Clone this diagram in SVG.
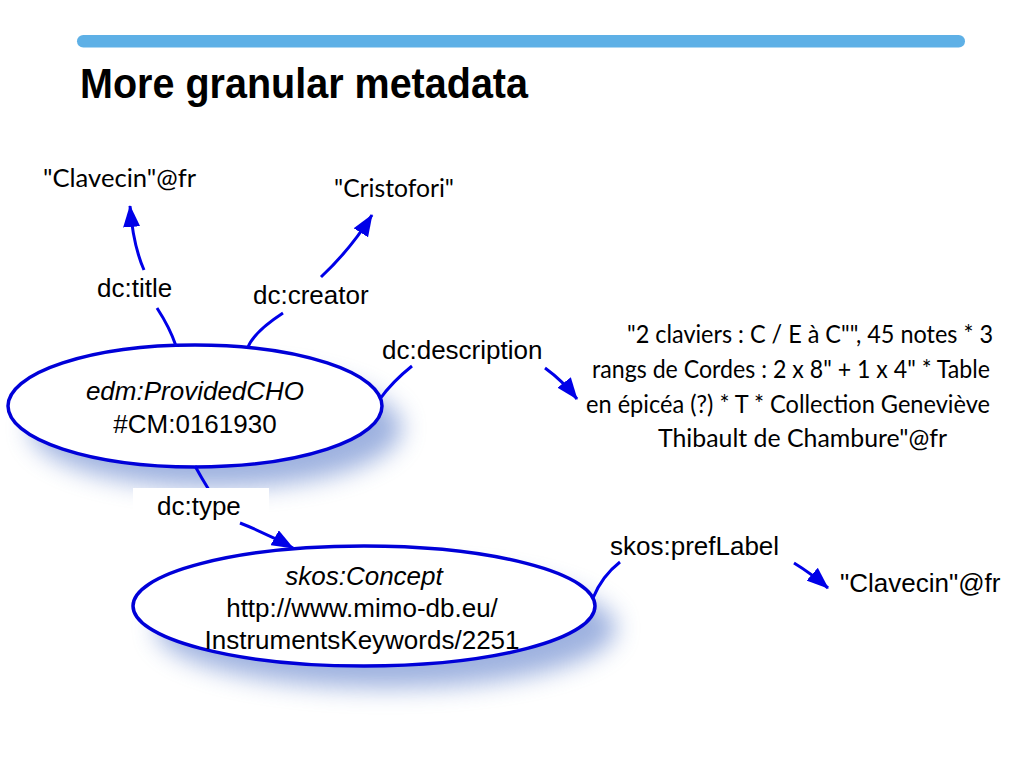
<svg xmlns="http://www.w3.org/2000/svg" width="1024" height="768" viewBox="0 0 1024 768">
<defs>
<filter id="blur" x="-30%" y="-60%" width="160%" height="220%"><feGaussianBlur stdDeviation="12"/></filter>
<marker id="arr" viewBox="0 0 22 17" refX="21" refY="8.5" markerWidth="22" markerHeight="17" markerUnits="userSpaceOnUse" orient="auto"><path d="M0,0 L22,8.5 L0,17 Z" fill="#0000e8"/></marker>
<style>
.edge{fill:none;stroke:#0000e8;stroke-width:3}
.node{fill:#fff;stroke:#0000d8;stroke-width:3.5}
.shadow{fill:#6383cc;opacity:0.62}
.lbl{font-family:"Liberation Sans",Arial,sans-serif;font-size:26px;fill:#000}
.lit{font-family:Lato,"Open Sans",sans-serif;font-size:25px;fill:#000}
</style>
</defs>
<rect width="1024" height="768" fill="#fff"/>
<rect x="77" y="35" width="888" height="12.5" rx="6.25" fill="#5eb0e6"/>
<text x="80" y="98" font-family="Liberation Sans,Arial,sans-serif" font-weight="bold" font-size="43" fill="#000" textLength="448" lengthAdjust="spacingAndGlyphs">More granular metadata</text>

<g id="n-cho">
<ellipse class="shadow" cx="216" cy="428" rx="186" ry="60" filter="url(#blur)"/>
<ellipse class="node" cx="195" cy="406" rx="187" ry="61"/>
<text class="lbl" x="195" y="400" text-anchor="middle" font-style="italic">edm:ProvidedCHO</text>
<text class="lbl" x="195" y="433" text-anchor="middle">#CM:0161930</text>
</g>

<g id="n-concept">
<ellipse class="shadow" cx="386" cy="628" rx="230" ry="60" filter="url(#blur)"/>
<ellipse class="node" cx="364" cy="606" rx="231" ry="60"/>
<text class="lbl" x="364" y="585" text-anchor="middle" font-style="italic">skos:Concept</text>
<text class="lbl" x="362" y="617" text-anchor="middle">http://www.mimo-db.eu/</text>
<text class="lbl" x="362" y="649" text-anchor="middle">InstrumentsKeywords/2251</text>
</g>

<g id="n-title"><text class="lit" x="43" y="187" textLength="153" lengthAdjust="spacingAndGlyphs">"Clavecin"@fr</text></g>
<g id="n-creator"><text class="lit" x="334" y="197" textLength="120" lengthAdjust="spacingAndGlyphs">"Cristofori"</text></g>
<g id="n-desc">
<text class="lit" x="627" y="343" textLength="366" lengthAdjust="spacingAndGlyphs">"2 claviers : C / E à C"", 45 notes * 3</text>
<text class="lit" x="592" y="378" textLength="398" lengthAdjust="spacingAndGlyphs">rangs de Cordes : 2 x 8" + 1 x 4" * Table</text>
<text class="lit" x="586" y="413" textLength="404" lengthAdjust="spacingAndGlyphs">en épicéa (?) * T * Collection Geneviève</text>
<text class="lit" x="658" y="447" textLength="289" lengthAdjust="spacingAndGlyphs">Thibault de Chambure"@fr</text>
</g>
<g id="n-pref"><text class="lbl" x="840" y="592">"Clavecin"@fr</text></g>

<g id="connectors">
<path class="edge" d="M176,346 Q170,328 157,308"/>
<path class="edge" d="M144,270 Q133,245 130,206" marker-end="url(#arr)"/>
<text class="lbl" x="97" y="297">dc:title</text>

<path class="edge" d="M248,347 Q254,332 283,313"/>
<path class="edge" d="M321,277 Q350,250 372,215" marker-end="url(#arr)"/>
<text class="lbl" x="253" y="304">dc:creator</text>

<path class="edge" d="M380,399 Q392,382 412,366"/>
<path class="edge" d="M545,368 Q563,381 577,399" marker-end="url(#arr)"/>
<text class="lbl" x="382" y="359">dc:description</text>

<path class="edge" d="M195,466 Q201,477 209,490"/>
<rect x="133" y="488" width="136" height="34" fill="#fff"/>
<text class="lbl" x="157" y="515">dc:type</text>
<path class="edge" d="M240,523 Q268,534 293,548" marker-end="url(#arr)"/>

<path class="edge" d="M593,598 Q602,576 620,562"/>
<path class="edge" d="M794,563 Q812,574 828,588" marker-end="url(#arr)"/>
<text class="lbl" x="610" y="555">skos:prefLabel</text>
</g>
</svg>
